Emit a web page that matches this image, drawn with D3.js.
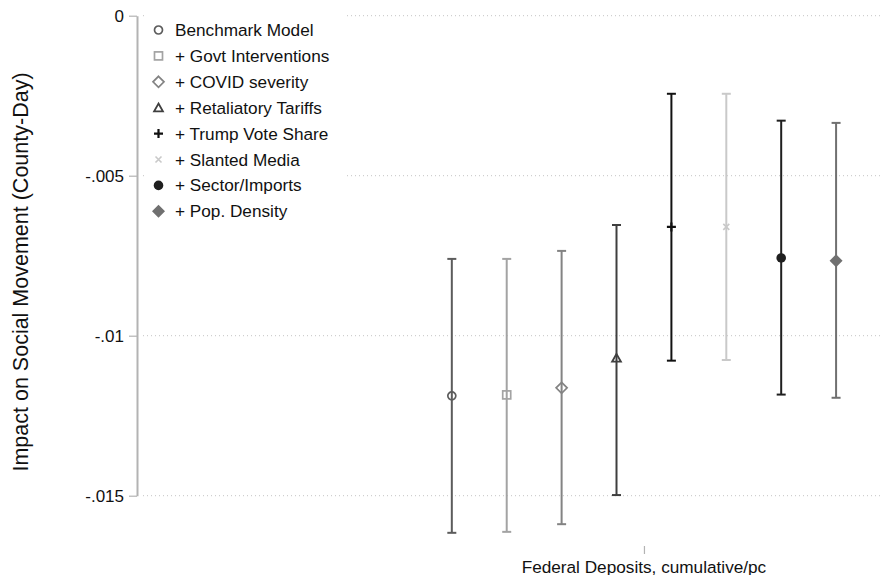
<!DOCTYPE html>
<html>
<head>
<meta charset="utf-8">
<script src="https://cdn.jsdelivr.net/npm/d3@7"></script>
<style>
  html, body { margin: 0; padding: 0; background: #fff; }
  svg { display: block; font-family: "Liberation Sans", Arial, Helvetica, sans-serif; }
</style>
</head>
<body>
<svg id="chart" width="884" height="575"></svg>
<script>
// Coefficient estimates with confidence intervals, one per model specification
const category = "Federal Deposits, cumulative/pc";
const seriesNames = [
  "Benchmark Model",
  "+ Govt Interventions",
  "+ COVID severity",
  "+ Retaliatory Tariffs",
  "+ Trump Vote Share",
  "+ Slanted Media",
  "+ Sector/Imports",
  "+ Pop. Density"
];
const coefs  = [-0.01188, -0.01185, -0.01163, -0.01070, -0.00660, -0.00660, -0.00757, -0.00766];
const ciLow  = [-0.01616, -0.01613, -0.01589, -0.01498, -0.01078, -0.01076, -0.01184, -0.01194];
const ciHigh = [-0.00760, -0.00760, -0.00735, -0.00654, -0.00244, -0.00244, -0.00328, -0.00335];
const offsets = [-0.35, -0.25, -0.15, -0.05, 0.05, 0.15, 0.25, 0.35];
const markers = ["circle", "square", "diamond", "triangle", "plus", "x", "dot", "diamondFill"];
const colors  = ["#5c5c5c", "#a3a3a3", "#838383", "#3f3f3f", "#111111", "#c9c9c9", "#1f1f1f", "#707070"];
const yTicks = [0, -0.005, -0.01, -0.015];
const yTickLabels = ["0", "-.005", "-.01", "-.015"];

const svg = d3.select("#chart");
const plot = { left: 137, right: 880, top: 15.7, bottom: 495.7 };

const x = d3.scaleLinear().domain([-0.9235, 0.43]).range([plot.left, plot.right]);
const y = d3.scaleLinear().domain([0, -0.015]).range([plot.top, plot.bottom]);

// Dotted horizontal grid lines
svg.append("g").selectAll("line").data(yTicks).join("line")
  .attr("x1", plot.left + 6).attr("x2", plot.right)
  .attr("y1", d => y(d)).attr("y2", d => y(d))
  .attr("stroke", "#c4c4c4").attr("stroke-width", 1)
  .attr("stroke-dasharray", "1 3");

// Y axis
const yAxis = d3.axisLeft(y).tickValues(yTicks)
  .tickFormat((d, i) => yTickLabels[i]).tickSize(8).tickPadding(5).tickSizeOuter(0);
const gy = svg.append("g").attr("transform", `translate(${plot.left},0)`).call(yAxis);
gy.select(".domain").attr("stroke", "#b3b3b3").attr("stroke-width", 2);
gy.selectAll(".tick line").attr("stroke", "#b3b3b3").attr("stroke-width", 1.2);
gy.selectAll(".tick text").attr("font-size", 17).attr("fill", "#111")
  .attr("font-family", "'Liberation Sans', Arial, Helvetica, sans-serif");

// X axis: single category tick, no axis line
const xAxis = d3.axisBottom(x).tickValues([0]).tickFormat(() => "").tickSize(8).tickSizeOuter(0);
const gx = svg.append("g").attr("transform", "translate(0,546)").call(xAxis);
gx.select(".domain").remove();
gx.selectAll(".tick line").attr("stroke", "#b3b3b3").attr("stroke-width", 1.2);
svg.append("text")
  .attr("x", x(0)).attr("y", 572.5)
  .attr("text-anchor", "middle").attr("font-size", 17.2).attr("fill", "#111")
  .text(category);

// Y axis title
svg.append("text")
  .attr("transform", "translate(28,272) rotate(-90)")
  .attr("text-anchor", "middle").attr("font-size", 21.5).attr("fill", "#111")
  .text("Impact on Social Movement (County-Day)");

// Marker drawing helper
function drawMarker(g, type, color) {
  switch (type) {
    case "circle":
      g.append("circle").attr("r", 4).attr("fill", "none")
        .attr("stroke", color).attr("stroke-width", 1.7);
      break;
    case "square":
      g.append("rect").attr("x", -4).attr("y", -4).attr("width", 8).attr("height", 8)
        .attr("fill", "none").attr("stroke", color).attr("stroke-width", 1.7);
      break;
    case "diamond":
      g.append("path").attr("d", "M0,-5.5L5.5,0L0,5.5L-5.5,0Z")
        .attr("fill", "none").attr("stroke", color).attr("stroke-width", 1.7);
      break;
    case "triangle":
      g.append("path").attr("d", "M0,-4.2L4.4,3.6L-4.4,3.6Z")
        .attr("fill", "none").attr("stroke", color).attr("stroke-width", 1.8);
      break;
    case "plus":
      g.append("path").attr("d", "M-4.5,0H4.5M0,-4.5V4.5")
        .attr("stroke", color).attr("stroke-width", 2.2);
      break;
    case "x":
      g.append("path").attr("d", "M-3,-3L3,3M-3,3L3,-3")
        .attr("stroke", color).attr("stroke-width", 1.6);
      break;
    case "dot":
      g.append("circle").attr("r", 4.8).attr("fill", color);
      break;
    case "diamondFill":
      g.append("path").attr("d", "M0,-6.5L6.5,0L0,6.5L-6.5,0Z").attr("fill", color);
      break;
  }
}

// Error bars and point estimates
const rows = seriesNames.map((name, i) => ({
  name, coef: coefs[i], lo: ciLow[i], hi: ciHigh[i], off: offsets[i],
  marker: markers[i], color: colors[i]
}));

const series = svg.append("g").selectAll("g").data(rows).join("g");
series.append("line")
  .attr("x1", d => x(d.off)).attr("x2", d => x(d.off))
  .attr("y1", d => y(d.lo)).attr("y2", d => y(d.hi))
  .attr("stroke", d => d.color).attr("stroke-width", 2);
series.each(function (d) {
  const g = d3.select(this);
  [d.lo, d.hi].forEach(v => {
    g.append("line")
      .attr("x1", x(d.off) - 4.5).attr("x2", x(d.off) + 4.5)
      .attr("y1", y(v)).attr("y2", y(v))
      .attr("stroke", d.color).attr("stroke-width", 2);
  });
  const m = g.append("g").attr("transform", `translate(${x(d.off)},${y(d.coef)})`);
  drawMarker(m, d.marker, d.color);
});

// Legend with white background
const legend = svg.append("g");
legend.append("rect").attr("x", 146).attr("y", 1).attr("width", 201).attr("height", 226).attr("fill", "#fff");
const rowY = i => 30 + i * 25.9;
rows.forEach((d, i) => {
  const m = legend.append("g").attr("transform", `translate(158.5,${rowY(i)})`);
  drawMarker(m, d.marker, d.color);
  legend.append("text").attr("x", 175).attr("y", rowY(i) + 6)
    .attr("font-size", 17.2).attr("fill", "#111").text(d.name);
});
</script>
</body>
</html>
